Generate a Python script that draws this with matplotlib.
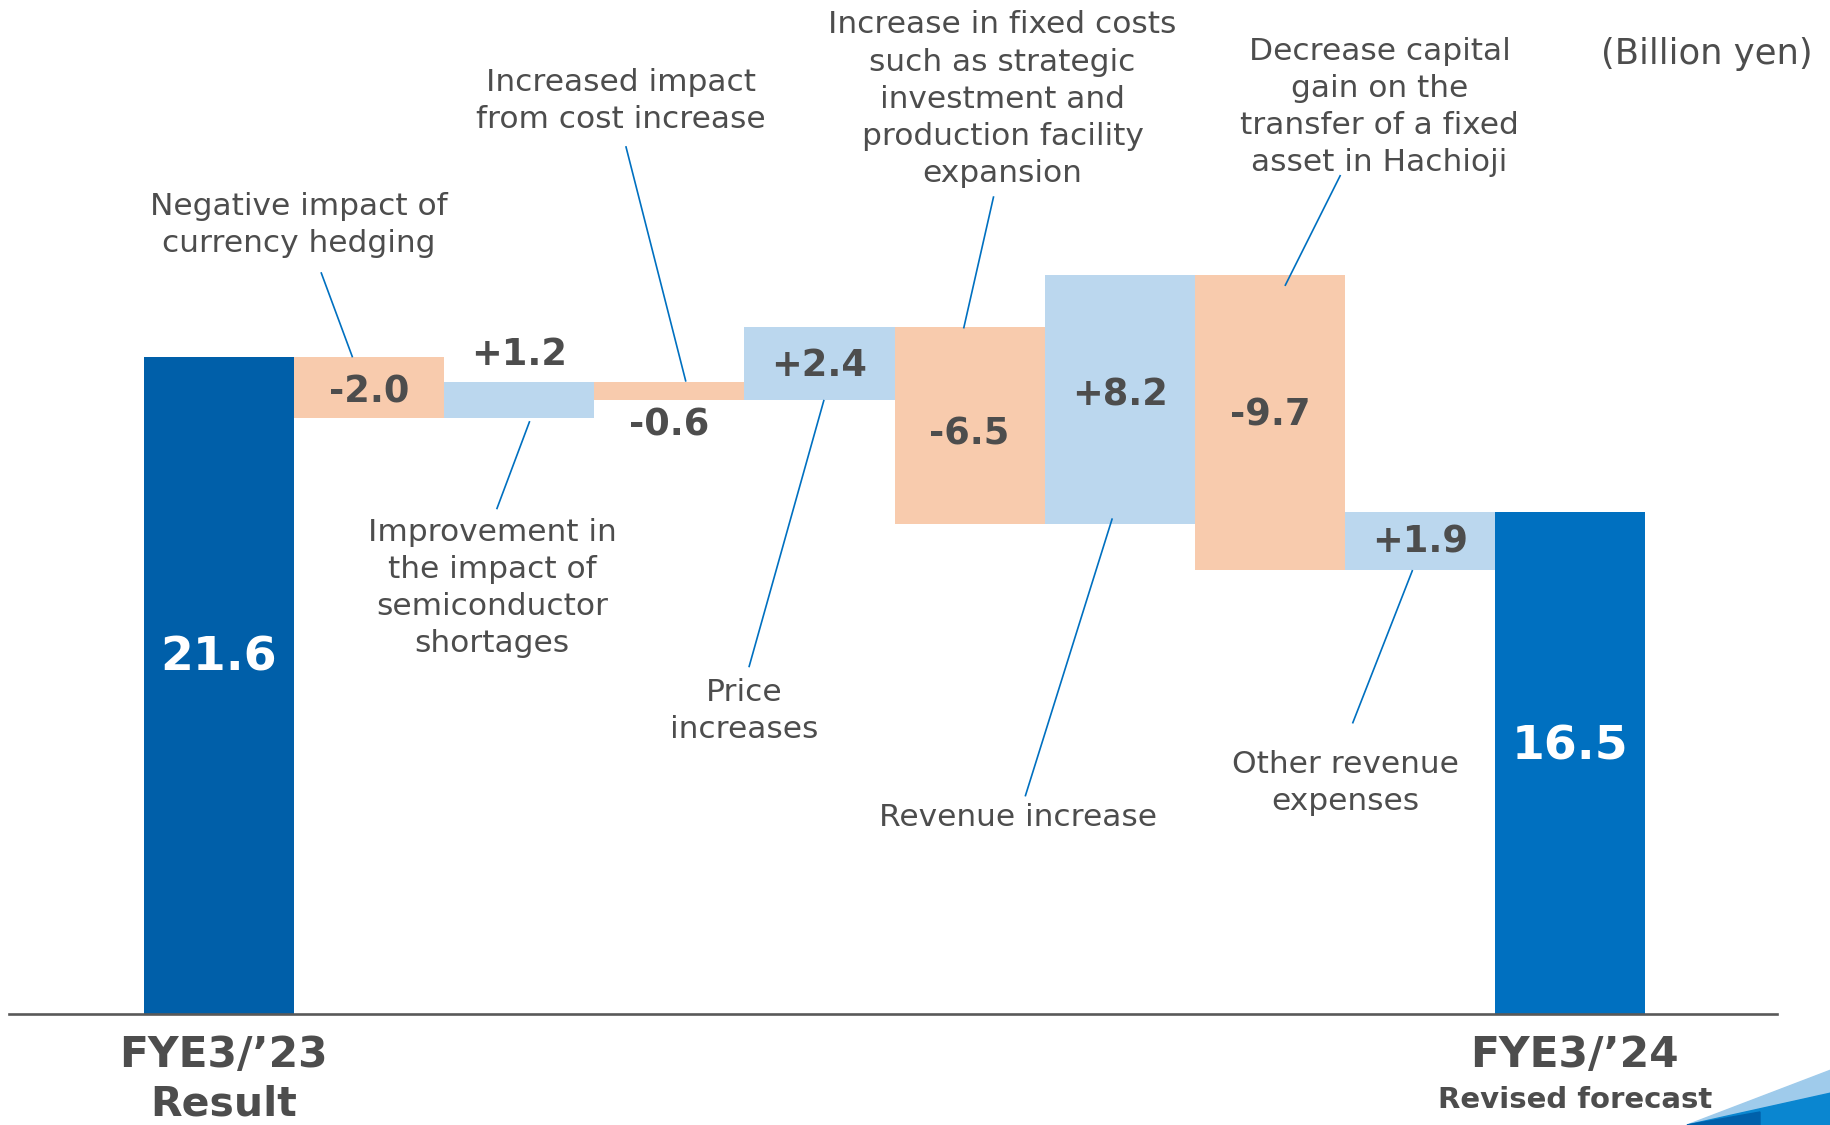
import numpy as np
import matplotlib
matplotlib.use("Agg")
import matplotlib.pyplot as plt
from matplotlib.patches import Polygon

plt.rcParams['font.family'] = ['DejaVu Sans']

# data
start_value = 21.6
end_value = 16.5
deltas = [-2.0, 1.2, -0.6, 2.4, -6.5, 8.2, -9.7, 1.9]
delta_labels = ["-2.0", "+1.2", "-0.6", "+2.4", "-6.5", "+8.2", "-9.7", "+1.9"]
notes = [
    "Negative impact of\ncurrency hedging",
    "Improvement in\nthe impact of\nsemiconductor\nshortages",
    "Increased impact\nfrom cost increase",
    "Price\nincreases",
    "Increase in fixed costs\nsuch as strategic\ninvestment and\nproduction facility\nexpansion",
    "Revenue increase",
    "Decrease capital\ngain on the\ntransfer of a fixed\nasset in Hachioji",
    "Other revenue\nexpenses",
]
end_labels = [("FYE3/\u201923", "Result"), ("FYE3/\u201924", "Revised forecast")]

# layout (not data)
label_y = [20.45, 21.68, 19.38, 21.34, 19.06, 20.37, 19.71, 15.52]
note_xy = [(0.53, 25.95), (1.82, 14.0), (2.68, 30.05), (3.50, 9.95),
           (5.22, 30.1), (5.32, 6.45), (7.73, 29.85), (7.50, 7.6)]
leaders = [((0.68, 24.4), (0.89, 21.6)), ((2.07, 19.5), (1.85, 16.6)),
           ((2.71, 28.55), (3.11, 20.8)), ((4.03, 20.2), (3.53, 11.4)),
           ((5.16, 26.9), (4.96, 22.55)), ((5.95, 16.3), (5.37, 7.15)),
           ((7.47, 27.6), (7.10, 23.95)), ((7.95, 14.6), (7.55, 9.55))]

dark1 = "#005FA9"
dark2 = "#0070C0"
neg_c = "#F8CBAD"
pos_c = "#BBD7EE"
txt = "#4D4D4D"
line_c = "#0070C0"

fig = plt.figure(figsize=(18.31, 11.25), dpi=100)
ax = fig.add_axes([0.00475, 0.099, 0.966, 0.901])

levels = start_value + np.cumsum(deltas)
prev = np.concatenate([[start_value], levels[:-1]])
bottoms = np.minimum(prev, levels)
heights = np.abs(deltas)
xs = np.arange(1, len(deltas) + 1)
colors = [pos_c if d > 0 else neg_c for d in deltas]

ax.bar([0], [start_value], width=1.0, color=dark1)
ax.bar(xs, heights, bottom=bottoms, width=1.0, color=colors)
ax.bar([len(deltas) + 1], [end_value], width=1.0, color=dark2)

ax.text(0, 11.72, f"{start_value}", ha="center", va="center",
        color="white", fontsize=34, fontweight="bold")
ax.text(len(deltas) + 1, 8.77, f"{end_value}", ha="center", va="center",
        color="white", fontsize=34, fontweight="bold")

for i, x in enumerate(xs):
    ax.text(x, label_y[i], delta_labels[i], ha="center", va="center", color=txt,
            fontsize=26.5, fontweight="bold")

for (nx, ny), s in zip(note_xy, notes):
    ax.text(nx, ny, s, ha="center", va="center", color=txt, fontsize=22.5,
            linespacing=1.35)

for (p0, p1) in leaders:
    ax.plot([p0[0], p1[0]], [p0[1], p1[1]], color=line_c, lw=1.2,
            clip_on=False, solid_capstyle="butt")

for xpos, (l1, l2) in zip([0.03, 9.03], end_labels):
    ax.text(xpos, -1.35, l1, ha="center", va="center", color=txt,
            fontsize=30.5, fontweight="bold")
for xpos, l2, fs, yy in [(0.03, end_labels[0][1], 29.5, -3.0),
                         (9.03, end_labels[1][1], 21, -2.84)]:
    ax.text(xpos, yy, l2, ha="center", va="center", color=txt,
            fontsize=fs, fontweight="bold")

fig.text(0.99, 0.952, "(Billion yen)", ha="right", va="center", color=txt,
         fontsize=25.5)

ax.set_xlim(-1.4, 10.38)
ax.set_ylim(0, 33.36)
for s in ["top", "right", "left"]:
    ax.spines[s].set_visible(False)
ax.spines["bottom"].set_color("#595959")
ax.spines["bottom"].set_linewidth(1.9)
ax.set_xticks([])
ax.set_yticks([])

# corner decoration
W, H = 1831, 1125
def fp(pts):
    return [(x / W, 1 - y / H) for x, y in pts]
fig.add_artist(Polygon(fp([(1687, 1125), (1831, 1070), (1831, 1125)]),
                       closed=True, color="#9FCBEB", transform=fig.transFigure))
fig.add_artist(Polygon(fp([(1687, 1125), (1831, 1093), (1831, 1125)]),
                       closed=True, color="#0A86D0", transform=fig.transFigure))
fig.add_artist(Polygon(fp([(1687, 1125), (1760, 1112), (1760, 1125)]),
                       closed=True, color="#0060AA", transform=fig.transFigure))

fig.savefig("out.png", dpi=100)
